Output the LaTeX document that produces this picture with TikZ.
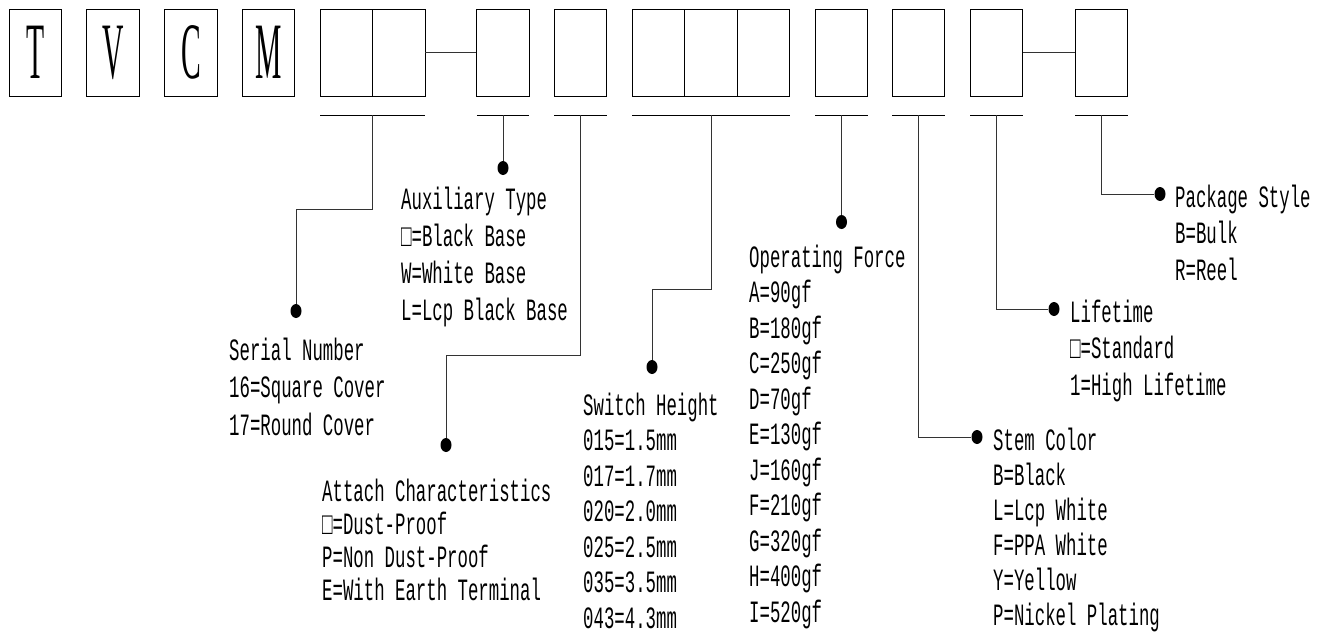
\documentclass[tikz,border=0pt]{standalone}
\usepackage{fontspec}
\usetikzlibrary{shapes.geometric}
\newfontfamily\txtfont[FakeStretch=0.56]{Liberation Mono}
\newfontfamily\bigletterfont[FakeStretch=0.37]{Liberation Serif}
\begin{document}
\begin{tikzpicture}[x=1pt,y=-1pt,
  cell/.style={draw, line width=0.8pt, minimum width=52.5pt, minimum height=87pt, inner sep=0pt,
    font=\bigletterfont\fontsize{80}{80}\selectfont},
  uline/.style={line width=0.8pt},
  conn/.style={line width=0.8pt, draw=black!80},
  dotnode/.style={ellipse, fill=black, inner sep=0pt, minimum width=11pt, minimum height=14pt},
  lab/.style={font=\txtfont\fontsize{31}{#1}\selectfont, align=left, anchor=north west, inner sep=0pt}
]
\useasboundingbox (0,0) rectangle (1330,632);
% letter boxes
\node[cell] (bT) at (35.5,52.7) {T};
\node[cell] (bV) at (113,52.7) {V};
\node[cell] (bC) at (191,52.7) {C};
\node[cell] (bM) at (268.5,52.7) {M};
% code boxes
\node[cell] (g1a) at (346.25,52.7) {};
\node[cell] (g1b) at (398.75,52.7) {};
\node[cell] (g2) at (503,52.7) {};
\node[cell] (g3) at (580.5,52.7) {};
\node[cell] (g4a) at (658.5,52.7) {};
\node[cell] (g4b) at (711,52.7) {};
\node[cell] (g4c) at (763.5,52.7) {};
\node[cell] (g5) at (841.5,52.7) {};
\node[cell] (g6) at (918.5,52.7) {};
\node[cell] (g7) at (996.5,52.7) {};
\node[cell] (g8) at (1101.5,52.7) {};
\draw[conn] (g1b.east) -- (g2.west);
\draw[conn] (g7.east) -- (g8.west);
% underlines
\draw[uline] (320,115) -- (425,115);
\draw[uline] (476.75,115) -- (529.25,115);
\draw[uline] (554.25,115) -- (606.75,115);
\draw[uline] (632.25,115) -- (789.75,115);
\draw[uline] (815.25,115) -- (867.75,115);
\draw[uline] (892.25,115) -- (944.75,115);
\draw[uline] (970.25,115) -- (1022.75,115);
\draw[uline] (1075.25,115) -- (1127.75,115);
\coordinate (u1) at (372.5,115);
\coordinate (u2) at (503,115);
\coordinate (u3) at (580.5,115);
\coordinate (u4) at (711,115);
\coordinate (u5) at (841.5,115);
\coordinate (u6) at (918.5,115);
\coordinate (u7) at (996.5,115);
\coordinate (u8) at (1101.5,115);
% dots
\node[dotnode] (d1) at (296,311) {};
\node[dotnode] (d2) at (503,168) {};
\node[dotnode] (d3) at (446,445) {};
\node[dotnode] (d4) at (652,367) {};
\node[dotnode] (d5) at (841.5,222) {};
\node[dotnode] (d6) at (977,437) {};
\node[dotnode] (d7) at (1054,309) {};
\node[dotnode] (d8) at (1160,194) {};
% bends
\coordinate (k1) at (296,209);
\coordinate (k3) at (446,355);
\coordinate (k4) at (652,289);
% connectors
\draw[conn] (u1) |- (k1) -- (d1);
\draw[conn] (u2) -- (d2);
\draw[conn] (u3) |- (k3) -- (d3);
\draw[conn] (u4) |- (k4) -- (d4);
\draw[conn] (u5) -- (d5);
\draw[conn] (u6) |- (d6);
\draw[conn] (u7) |- (d7);
\draw[conn] (u8) |- (d8);
% labels
\node[lab=37.5] (t1) at (229,337.5) {Serial Number\\16=Square Cover\\17=Round Cover};
\node[lab=37] (t2) at (401,186.5) {Auxiliary Type\\□=Black Base\\W=White Base\\L=Lcp Black Base};
\node[lab=33] (t3) at (322,478.5) {Attach Characteristics\\□=Dust-Proof\\P=Non Dust-Proof\\E=With Earth Terminal};
\node[lab=35.5] (t4) at (583,392.5) {Switch Height\\015=1.5mm\\017=1.7mm\\020=2.0mm\\025=2.5mm\\035=3.5mm\\043=4.3mm};
\node[lab=35.5] (t5) at (749,244.5) {Operating Force\\A=90gf\\B=180gf\\C=250gf\\D=70gf\\E=130gf\\J=160gf\\F=210gf\\G=320gf\\H=400gf\\I=520gf};
\node[lab=35] (t6) at (993,427.5) {Stem Color\\B=Black\\L=Lcp White\\F=PPA White\\Y=Yellow\\P=Nickel Plating};
\node[lab=36.5] (t7) at (1070,299.5) {Lifetime\\□=Standard\\1=High Lifetime};
\node[lab=36.5] (t8) at (1175,184.5) {Package Style\\B=Bulk\\R=Reel};
\end{tikzpicture}
\end{document}
